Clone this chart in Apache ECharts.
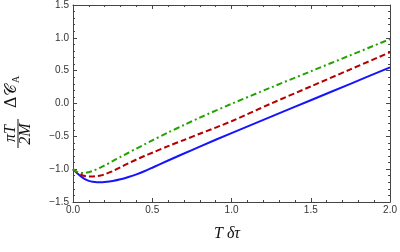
<!DOCTYPE html>
<html><head><meta charset="utf-8">
<script src="https://cdn.jsdelivr.net/npm/echarts@6/dist/echarts.min.js"></script>
<style>html,body{margin:0;padding:0;background:#fff}#c{width:400px;height:252px}</style>
</head><body><div id="c"></div>
<script>
var tValues     = [0, 0.025, 0.05, 0.075, 0.1, 0.125, 0.15, 0.175, 0.2, 0.25, 0.3, 0.35, 0.4, 0.45, 0.5, 0.6, 0.7, 0.8, 1.0, 1.25, 1.5, 1.75, 2.0];
var blueValues  = [-1.0, -1.06, -1.11, -1.15, -1.178, -1.193, -1.2, -1.2, -1.196, -1.18, -1.155, -1.12, -1.08, -1.032, -0.978, -0.868, -0.762, -0.656, -0.45, -0.2, 0.05, 0.30, 0.55];
var redValues   = [-1.0, -1.05, -1.085, -1.105, -1.113, -1.112, -1.106, -1.095, -1.078, -1.03, -0.97, -0.91, -0.853, -0.8, -0.75, -0.65, -0.555, -0.46, -0.27, 0.0, 0.26, 0.52, 0.78];
var greenValues = [-1.0, -1.04, -1.057, -1.058, -1.046, -1.026, -1.0, -0.972, -0.942, -0.878, -0.812, -0.75, -0.687, -0.624, -0.562, -0.442, -0.327, -0.215, -0.005, 0.245, 0.49, 0.735, 0.98];
var xTicks = [0, 0.5, 1.0, 1.5, 2.0];
var yTicks = [-1.5, -1.0, -0.5, 0, 0.5, 1.0, 1.5];

function pairs(vals){ return tValues.map(function(t,i){ return [t, vals[i]]; }); }
function fmt(v){ var s = Math.abs(v).toFixed(1); return v < 0 ? '\u2212' + s : s; }

var frameColor = '#444';
function axisBase(showLabel){
  return {
    type: 'value',
    axisLine: {show: true, onZero: false, lineStyle: {color: frameColor, width: 1}},
    axisTick: {show: true, inside: true, length: 4, lineStyle: {color: frameColor}},
    minorTick: {show: true, splitNumber: 5, length: 2, lineStyle: {color: frameColor}},
    splitLine: {show: false},
    axisLabel: {show: showLabel, color: '#333', fontSize: 10, fontFamily: 'Liberation Sans, Arial, sans-serif', formatter: fmt, margin: 4}
  };
}
var xb = axisBase(true), xt = axisBase(false), yl = axisBase(true), yr = axisBase(false);
[xb, xt].forEach(function(a){ a.min = xTicks[0]; a.max = xTicks[xTicks.length-1]; a.interval = 0.5; });
[yl, yr].forEach(function(a){ a.min = yTicks[0]; a.max = yTicks[yTicks.length-1]; a.interval = 0.5; });
xb.position = 'bottom'; xt.position = 'top';
yl.position = 'left'; yr.position = 'right';
xb.axisLabel.formatter = function(v){ return v.toFixed(1); };
xb.axisLabel.margin = 3;

var serif = '"Liberation Serif", "DejaVu Serif", serif';
var chart = echarts.init(document.getElementById('c'), null, {renderer: 'canvas'});
chart.setOption({
  animation: false,
  grid: {left: 73, right: 7, top: 5, bottom: 50},
  xAxis: [xb, xt],
  yAxis: [yl, yr],
  series: [
    {type: 'line', data: pairs(blueValues), smooth: 0.3, showSymbol: false, lineStyle: {color: '#1414ff', width: 2}},
    {type: 'line', data: pairs(redValues), smooth: 0.3, showSymbol: false, lineStyle: {color: '#b30000', width: 2, type: [6, 3]}},
    {type: 'line', data: pairs(greenValues), smooth: 0.3, showSymbol: false, lineStyle: {color: '#22a300', width: 2, type: [6, 3, 2, 3]}}
  ],
  graphic: [
    {type: 'text', left: 214, top: 226, style: {text: 'T \u03B4\u03C4', font: 'italic 16px ' + serif, fill: '#111'}},
    {type: 'group', x: 18, y: 108, rotation: Math.PI/2, children: [
      {type: 'text', x: -25.5, y: -7, style: {text: '\u03C0T', font: 'italic 16px ' + serif, fill: '#111', align: 'center', verticalAlign: 'middle'}},
      {type: 'line', shape: {x1: -40, y1: 0, x2: -11, y2: 0}, style: {stroke: '#111', lineWidth: 1}},
      {type: 'text', x: -26, y: 8, style: {text: '2M', font: 'italic 16px ' + serif, fill: '#111', align: 'center', verticalAlign: 'middle'}},
      {type: 'text', x: 0, y: -6, style: {text: '\u0394\uD835\uDC9E', font: '16px "DejaVu Serif", "Liberation Serif", serif', fill: '#111', align: 'left', verticalAlign: 'middle'}},
      {type: 'text', x: 25, y: -2, style: {text: 'A', font: '10px ' + serif, fill: '#111', align: 'left', verticalAlign: 'middle'}}
    ]}
  ]
});
</script></body></html>
